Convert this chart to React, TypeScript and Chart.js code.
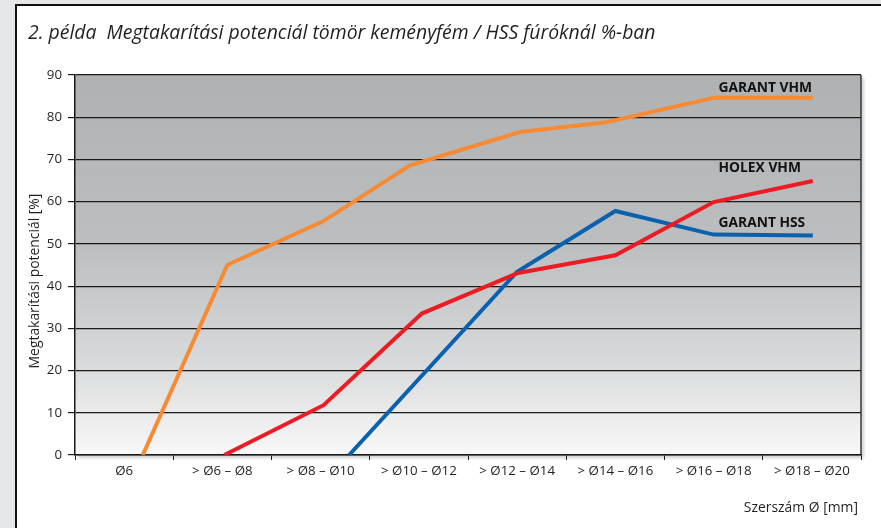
import React, { useEffect, useRef } from "react";
import { Chart, registerables } from "chart.js";

Chart.register(...registerables);

const categories = ["Ø6", "> Ø6 – Ø8", "> Ø8 – Ø10", "> Ø10 – Ø12", "> Ø12 – Ø14", "> Ø14 – Ø16", "> Ø16 – Ø18", "> Ø18 – Ø20"];
const yTicks = [0, 10, 20, 30, 40, 50, 60, 70, 80, 90];

const seriesNames = ["GARANT VHM", "HOLEX VHM", "GARANT HSS"];

const garantVhmX = [0.19, 1.05, 2.03, 2.91, 4.03, 4.91, 6.0, 7.01];
const garantVhmY = [0, 45, 55.4, 68.6, 76.5, 78.8, 84.6, 84.6];

const holexVhmX = [1.02, 2.03, 3.03, 4.01, 5.0, 6.0, 7.01];
const holexVhmY = [0, 11.8, 33.5, 43.1, 47.3, 59.9, 64.9];

const garantHssX = [2.29, 4.0, 5.0, 6.0, 7.01];
const garantHssY = [0, 43.4, 57.8, 52.2, 52.0];

const titleText = "2. példa  Megtakarítási potenciál tömör keményfém / HSS fúróknál %-ban";
const yTitle = "Megtakarítási potenciál [%]";
const xTitle = "Szerszám Ø [mm]";

const COLORS = ["#f68b33", "#ec1c24", "#0a62ae"];
const LABEL_POS = [
  { x: 6.05, y: 87 },
  { x: 6.05, y: 68 },
  { x: 6.05, y: 55 },
];
const FONT = "'Open Sans', 'DejaVu Sans', sans-serif";

const pts = (xs: number[], ys: number[]) => xs.map((x, i) => ({ x, y: ys[i] }));

const decorPlugin = {
  id: "decor",
  beforeDraw(chart: any) {
    const { ctx, chartArea } = chart;
    const { left, top, right, bottom } = chartArea;
    ctx.save();
    ctx.fillStyle = "rgba(0,0,0,0.18)";
    ctx.filter = "blur(1.5px)";
    ctx.fillRect(left + 3, top + 3, right - left, bottom - top);
    ctx.filter = "none";
    const g = ctx.createLinearGradient(0, top, 0, bottom);
    g.addColorStop(0, "#b0b1b3");
    g.addColorStop(0.45, "#bdbec0");
    g.addColorStop(0.75, "#d8d9da");
    g.addColorStop(1, "#f8f8f8");
    ctx.fillStyle = g;
    ctx.fillRect(left, top, right - left, bottom - top);
    ctx.restore();

    ctx.save();
    ctx.fillStyle = "#231f20";
    ctx.font = `italic 19.4px ${FONT}`;
    ctx.textBaseline = "alphabetic";
    ctx.textAlign = "left";
    ctx.fillText(titleText, 28, 39);
    ctx.restore();
  },
  beforeDatasetsDraw(chart: any) {
    const { ctx, chartArea } = chart;
    ctx.save();
    ctx.strokeStyle = "#222";
    ctx.lineWidth = 1.3;
    ctx.beginPath();
    ctx.moveTo(chartArea.right, chartArea.top);
    ctx.lineTo(chartArea.right, chartArea.bottom);
    ctx.stroke();
    ctx.restore();
  },
  afterDraw(chart: any) {
    const { ctx, scales } = chart;
    ctx.save();
    ctx.fillStyle = "#111";
    ctx.font = `bold 13.8px ${FONT}`;
    ctx.textBaseline = "middle";
    ctx.textAlign = "left";
    seriesNames.forEach((n, i) => {
      ctx.fillText(n, scales.xl.getPixelForValue(LABEL_POS[i].x), scales.y.getPixelForValue(LABEL_POS[i].y));
    });
    ctx.fillStyle = "#231f20";
    ctx.font = `13.9px ${FONT}`;
    ctx.textAlign = "right";
    ctx.fillText(xTitle, 858, 508);
    ctx.translate(35, 281);
    ctx.rotate(-Math.PI / 2);
    ctx.textAlign = "center";
    ctx.fillText(yTitle, 0, 0);
    ctx.restore();
  },
};

export default function App() {
  const ref = useRef<HTMLCanvasElement>(null);
  useEffect(() => {
    if (!ref.current) return;
    const mk = (label: string, xs: number[], ys: number[], c: string) => ({
      label,
      data: pts(xs, ys),
      xAxisID: "xl",
      yAxisID: "y",
      borderColor: c,
      backgroundColor: c,
      borderWidth: 4,
      pointRadius: 0,
      tension: 0,
      borderCapStyle: "butt",
      borderJoinStyle: "miter",
    });
    const chart = new Chart(ref.current, {
      type: "line",
      data: {
        labels: categories,
        datasets: [
          mk(seriesNames[0], garantVhmX, garantVhmY, COLORS[0]),
          mk(seriesNames[1], holexVhmX, holexVhmY, COLORS[1]),
          mk(seriesNames[2], garantHssX, garantHssY, COLORS[2]),
        ] as any,
      },
      plugins: [decorPlugin],
      options: {
        animation: false,
        responsive: false,
        devicePixelRatio: 1,
        layout: { padding: { left: 0, top: 75, right: 20, bottom: 0 } },
        plugins: { legend: { display: false }, tooltip: { enabled: false }, title: { display: false } },
        scales: {
          x: {
            type: "category",
            position: "bottom",
            offset: true,
            afterFit: (s: any) => { s.height = 73; },
            grid: { offset: true, drawOnChartArea: false, drawTicks: true, tickLength: 5, color: "#222", lineWidth: 1 },
            border: { display: true, color: "#1a1a1a", width: 1.5 },
            ticks: { color: "#231f20", font: { family: FONT, size: 13.3 }, padding: 3, autoSkip: false, maxRotation: 0 },
          },
          xl: {
            type: "linear",
            display: false,
            min: -0.5,
            max: 7.5,
          },
          y: {
            type: "linear",
            min: 0,
            max: 90,
            afterFit: (s: any) => { s.width = 75; },
            afterBuildTicks: (s: any) => { s.ticks = yTicks.map((v) => ({ value: v })); },
            grid: { color: "#1a1a1a", lineWidth: 1.2, tickLength: 7, drawTicks: true },
            border: { display: true, color: "#1a1a1a", width: 1.5 },
            ticks: { color: "#231f20", font: { family: FONT, size: 13.3 }, padding: 6 },
          },
        },
      },
    } as any);
    return () => chart.destroy();
  }, []);
  return (
    <div style={{ position: "fixed", left: 0, top: 0, width: 881, height: 528, background: "#e6e7e8", overflow: "hidden" }}>
      <div style={{ position: "absolute", left: 15, top: 4, right: 0, bottom: 0, background: "#fff", borderLeft: "2px solid #111", borderTop: "2px solid #111" }} />
      <canvas ref={ref} width={881} height={528} style={{ position: "absolute", left: 0, top: 0, width: 881, height: 528 }} />
    </div>
  );
}
